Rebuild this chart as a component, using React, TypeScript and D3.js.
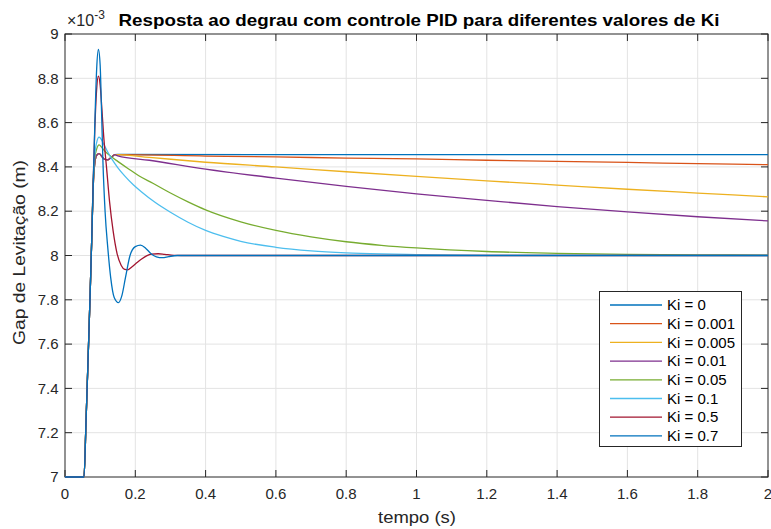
import React from 'react';
import * as d3 from 'd3';

// dados (tempo em s, gap em mm*1e-3)
const kiLabels = ['Ki = 0', 'Ki = 0.001', 'Ki = 0.005', 'Ki = 0.01', 'Ki = 0.05', 'Ki = 0.1', 'Ki = 0.5', 'Ki = 0.7'];
const colors = ['#0072BD', '#D95319', '#EDB120', '#7E2F8E', '#77AC30', '#4DBEEE', '#A2142F', '#0072BD'];

const xTicks = [0, 0.2, 0.4, 0.6, 0.8, 1, 1.2, 1.4, 1.6, 1.8, 2];
const yTicks = [7, 7.2, 7.4, 7.6, 7.8, 8, 8.2, 8.4, 8.6, 8.8, 9];

type Pt = [number, number];

// subida comum a todas as curvas
const onset: Pt[] = [[0, 7], [0.05, 7], [0.054, 7], [0.06, 7.26], [0.066, 7.55], [0.071, 7.8], [0.076, 8.07]];
// pequeno pico das curvas com Ki baixo
const lowKiBump: Pt[] = [[0.08, 8.3], [0.085, 8.42], [0.09, 8.452], [0.097, 8.46], [0.105, 8.447], [0.113, 8.434], [0.122, 8.432], [0.132, 8.444], [0.142, 8.455]];

const ki0: Pt[] = [[0.15, 8.456], [1, 8.455], [2, 8.455]];
const ki001: Pt[] = [[0.15, 8.455], [0.4, 8.449], [0.6, 8.445], [0.8, 8.44], [1, 8.436], [1.2, 8.43], [1.4, 8.425], [1.6, 8.42], [1.8, 8.415], [2, 8.41]];
const ki005: Pt[] = [[0.15, 8.455], [0.24, 8.443], [0.4, 8.421], [0.6, 8.4], [0.8, 8.378], [1, 8.357], [1.2, 8.337], [1.4, 8.318], [1.6, 8.299], [1.8, 8.282], [2, 8.265]];
const ki01: Pt[] = [[0.15, 8.45], [0.24, 8.43], [0.4, 8.39], [0.6, 8.349], [0.8, 8.312], [1, 8.278], [1.2, 8.249], [1.4, 8.221], [1.6, 8.197], [1.8, 8.175], [2, 8.156]];
const ki05: Pt[] = [[0.08, 8.32], [0.085, 8.44], [0.09, 8.48], [0.097, 8.499], [0.105, 8.487], [0.113, 8.472], [0.123, 8.457], [0.135, 8.442], [0.15, 8.425], [0.18, 8.392], [0.21, 8.36], [0.25, 8.326], [0.3, 8.282], [0.35, 8.242], [0.4, 8.206], [0.5, 8.152], [0.6, 8.113], [0.7, 8.084], [0.8, 8.062], [0.9, 8.046], [1, 8.034], [1.2, 8.018], [1.4, 8.01], [1.6, 8.005], [1.8, 8.003], [2, 8.002]];
const ki1: Pt[] = [[0.08, 8.33], [0.085, 8.46], [0.09, 8.51], [0.097, 8.534], [0.104, 8.522], [0.112, 8.497], [0.122, 8.466], [0.133, 8.436], [0.15, 8.397], [0.171, 8.357], [0.195, 8.318], [0.218, 8.287], [0.256, 8.24], [0.3, 8.195], [0.35, 8.15], [0.4, 8.113], [0.45, 8.086], [0.5, 8.064], [0.6, 8.037], [0.7, 8.021], [0.8, 8.012], [0.9, 8.007], [1, 8.004], [1.2, 8.001], [2, 8]];
const ki5: Pt[] = [[0.08, 8.33], [0.085, 8.58], [0.09, 8.75], [0.095, 8.81], [0.1, 8.77], [0.105, 8.66], [0.11, 8.54], [0.118, 8.4], [0.127, 8.24], [0.137, 8.11], [0.148, 8.01], [0.16, 7.955], [0.17, 7.937], [0.178, 7.935], [0.19, 7.948], [0.205, 7.968], [0.218, 7.984], [0.232, 7.998], [0.246, 8.006], [0.265, 8.008], [0.284, 8.005], [0.31, 8.001], [0.35, 8], [2, 8]];
const ki7: Pt[] = [[0.08, 8.3], [0.085, 8.6], [0.09, 8.84], [0.095, 8.93], [0.1, 8.86], [0.104, 8.65], [0.108, 8.42], [0.114, 8.2], [0.122, 8.03], [0.13, 7.9], [0.14, 7.81], [0.152, 7.787], [0.162, 7.82], [0.172, 7.9], [0.185, 8], [0.2, 8.04], [0.215, 8.047], [0.23, 8.032], [0.245, 8.008], [0.26, 7.994], [0.277, 7.99], [0.295, 7.995], [0.32, 8], [2, 8]];

const series: Pt[][] = [
  [...onset, ...lowKiBump, ...ki0],
  [...onset, ...lowKiBump, ...ki001],
  [...onset, ...lowKiBump, ...ki005],
  [...onset, ...lowKiBump, ...ki01],
  [...onset, ...ki05],
  [...onset, ...ki1],
  [...onset, ...ki5],
  [...onset, ...ki7],
];

const W = 771;
const H = 529;
const left = 65, right = 768, top = 34, bottom = 477;
const font = '"Liberation Sans", Arial, Helvetica, sans-serif';
const axisColor = '#262626';

const App = () => {
  const x = d3.scaleLinear().domain([0, 2]).range([left, right]);
  const y = d3.scaleLinear().domain([7, 9]).range([bottom, top]);
  const line = d3.line<Pt>()
    .x(d => x(d[0]))
    .y(d => y(d[1]))
    .curve(d3.curveMonotoneX);

  const legX = 599.5, legY = 291.5, legW = 142, legH = 155;
  const rowY = (i: number) => 305 + i * 18.7;

  return (
    <svg width={W} height={H} style={{ position: 'absolute', left: 0, top: 0, background: '#fff' }} fontFamily={font}>
      <rect x={0} y={0} width={W} height={H} fill="#fff" />
      {/* grade */}
      {xTicks.slice(1, -1).map(t => (
        <line key={'gx' + t} x1={x(t)} x2={x(t)} y1={top} y2={bottom} stroke="#e3e3e3" strokeWidth={1} />
      ))}
      {yTicks.slice(1, -1).map(t => (
        <line key={'gy' + t} x1={left} x2={right} y1={y(t)} y2={y(t)} stroke="#e3e3e3" strokeWidth={1} />
      ))}
      {/* caixa dos eixos */}
      <rect x={left} y={top} width={right - left} height={bottom - top} fill="none" stroke={axisColor} strokeWidth={1} />
      {/* marcas */}
      {xTicks.map(t => (
        <g key={'tx' + t}>
          <line x1={x(t)} x2={x(t)} y1={bottom} y2={bottom - 7} stroke={axisColor} />
          <line x1={x(t)} x2={x(t)} y1={top} y2={top + 7} stroke={axisColor} />
          <text x={x(t)} y={499} textAnchor="middle" fontSize={15} fill={axisColor}>{String(t)}</text>
        </g>
      ))}
      {yTicks.map(t => (
        <g key={'ty' + t}>
          <line x1={left} x2={left + 7} y1={y(t)} y2={y(t)} stroke={axisColor} />
          <line x1={right} x2={right - 7} y1={y(t)} y2={y(t)} stroke={axisColor} />
          <text x={58.5} y={y(t)} dy="0.35em" textAnchor="end" fontSize={15} fill={axisColor}>{String(t)}</text>
        </g>
      ))}
      {/* curvas */}
      {series.map((s, i) => (
        <path key={'s' + i} d={line(s) || ''} fill="none" stroke={colors[i]} strokeWidth={1.3} />
      ))}
      {/* multiplicador */}
      <text x={67} y={26} fontSize={16} fill={axisColor}>
        ×10<tspan dy={-7} fontSize={12}>-3</tspan>
      </text>
      {/* títulos */}
      <text x={419} y={26} textAnchor="middle" fontSize={16.5} fontWeight="bold" fill="#000" textLength={601} lengthAdjust="spacingAndGlyphs">
        Resposta ao degrau com controle PID para diferentes valores de Ki
      </text>
      <text x={417} y={523} textAnchor="middle" fontSize={16.5} fill={axisColor} textLength={78} lengthAdjust="spacingAndGlyphs">tempo (s)</text>
      <text transform="translate(25,252.5) rotate(-90)" textAnchor="middle" fontSize={16.5} fill={axisColor} textLength={185} lengthAdjust="spacingAndGlyphs">Gap de Levitação (m)</text>
      {/* legenda */}
      <rect x={legX} y={legY} width={legW} height={legH} fill="#fff" stroke={axisColor} strokeWidth={1} />
      {kiLabels.map((lab, i) => (
        <g key={'l' + i}>
          <line x1={610} x2={662} y1={rowY(i)} y2={rowY(i)} stroke={colors[i]} strokeWidth={1.3} />
          <text x={667} y={rowY(i)} dy="0.35em" fontSize={15} fill="#000">{lab}</text>
        </g>
      ))}
    </svg>
  );
};

export default App;
